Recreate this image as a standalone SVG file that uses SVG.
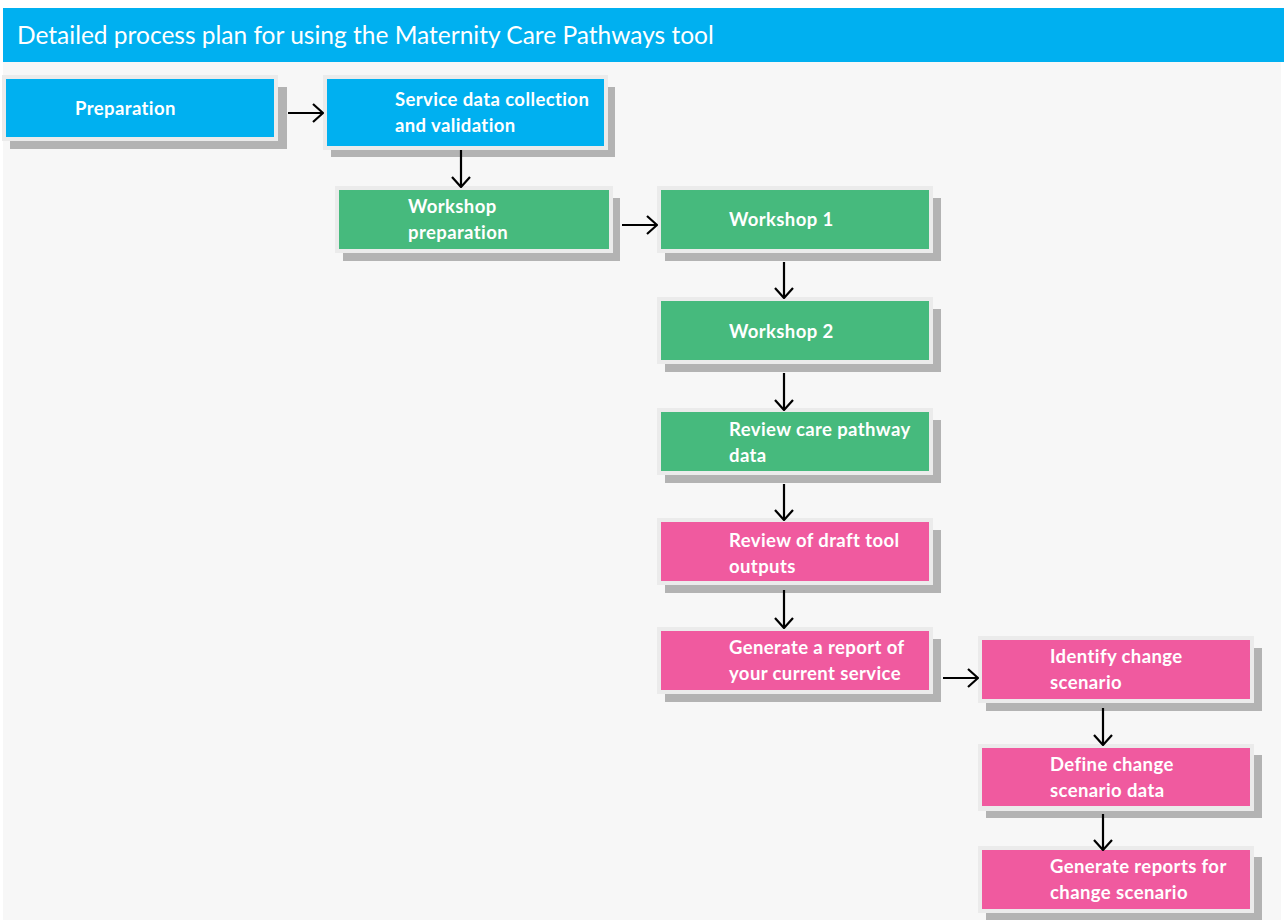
<svg xmlns="http://www.w3.org/2000/svg" width="1284" height="922" viewBox="0 0 1284 922">
<defs>
<style>
.bg{fill:#f7f7f7}
.sh{fill:#b3b3b3}
.bd{fill:#ebebeb}
.blue{fill:#00b0f0}
.green{fill:#46ba7d}
.pink{fill:#f05a9f}
.t{font-family:Lato,"Open Sans","Liberation Sans",sans-serif;font-weight:bold;font-size:18.5px;letter-spacing:0.4px;fill:#ffffff}
.title{font-family:Lato,"Open Sans","Liberation Sans",sans-serif;font-size:24.5px;fill:#ffffff}
.c{stroke:#000;stroke-width:2.2;fill:none}
</style>
<marker id="ah" markerUnits="userSpaceOnUse" viewBox="0 0 12 20" refX="11" refY="10" markerWidth="12" markerHeight="20" orient="auto">
<path d="M1,1 L11,10 L1,19" fill="none" stroke="#000" stroke-width="2.2"/>
</marker>
</defs>
<rect x="0" y="0" width="1284" height="922" fill="#ffffff"/>
<rect class="bg" x="3" y="62" width="1278" height="858"/>
<g id="title">
<rect x="3" y="8" width="1281" height="54" fill="#00b0f0"/>
<text class="title" x="17" y="44">Detailed process plan for using the Maternity Care Pathways tool</text>
</g>
<g id="n1">
<rect class="sh" x="10" y="87" width="277" height="62"/>
<rect class="bd" x="2" y="75" width="276" height="66"/>
<rect class="blue" x="6" y="79" width="268" height="58"/>
<text class="t" x="75" y="115">Preparation</text>
</g>
<g id="n2">
<rect class="sh" x="331" y="87" width="284" height="70"/>
<rect class="bd" x="323" y="75" width="285" height="75"/>
<rect class="blue" x="327" y="79" width="277" height="67"/>
<text class="t" x="395" y="106">Service data collection</text>
<text class="t" x="395" y="132">and validation</text>
</g>
<g id="n3">
<rect class="sh" x="343" y="198" width="277" height="63"/>
<rect class="bd" x="335" y="186" width="278" height="67"/>
<rect class="green" x="339" y="190" width="270" height="59"/>
<text class="t" x="408" y="213">Workshop</text>
<text class="t" x="408" y="239">preparation</text>
</g>
<g id="n4">
<rect class="sh" x="665" y="198" width="276" height="63"/>
<rect class="bd" x="657" y="186" width="276" height="67"/>
<rect class="green" x="661" y="190" width="268" height="59"/>
<text class="t" x="729" y="226">Workshop 1</text>
</g>
<g id="n5">
<rect class="sh" x="665" y="309" width="276" height="63"/>
<rect class="bd" x="657" y="297" width="276" height="67"/>
<rect class="green" x="661" y="301" width="268" height="59"/>
<text class="t" x="729" y="338">Workshop 2</text>
</g>
<g id="n6">
<rect class="sh" x="665" y="420" width="276" height="63"/>
<rect class="bd" x="657" y="408" width="276" height="67"/>
<rect class="green" x="661" y="412" width="268" height="59"/>
<text class="t" x="729" y="436">Review care pathway</text>
<text class="t" x="729" y="462">data</text>
</g>
<g id="n7">
<rect class="sh" x="665" y="530" width="276" height="63"/>
<rect class="bd" x="657" y="518" width="276" height="67"/>
<rect class="pink" x="661" y="522" width="268" height="59"/>
<text class="t" x="729" y="547">Review of draft tool</text>
<text class="t" x="729" y="573">outputs</text>
</g>
<g id="n8">
<rect class="sh" x="665" y="639" width="276" height="63"/>
<rect class="bd" x="657" y="627" width="276" height="67"/>
<rect class="pink" x="661" y="631" width="268" height="59"/>
<text class="t" x="729" y="654">Generate a report of</text>
<text class="t" x="729" y="680">your current service</text>
</g>
<g id="n9">
<rect class="sh" x="986" y="648" width="276" height="63"/>
<rect class="bd" x="978" y="636" width="276" height="67"/>
<rect class="pink" x="982" y="640" width="268" height="59"/>
<text class="t" x="1050" y="663">Identify change</text>
<text class="t" x="1050" y="689">scenario</text>
</g>
<g id="n10">
<rect class="sh" x="986" y="755" width="276" height="63"/>
<rect class="bd" x="978" y="744" width="276" height="67"/>
<rect class="pink" x="982" y="748" width="268" height="58"/>
<text class="t" x="1050" y="771">Define change</text>
<text class="t" x="1050" y="797">scenario data</text>
</g>
<g id="n11">
<rect class="sh" x="986" y="857" width="276" height="63"/>
<rect class="bd" x="978" y="846" width="276" height="67"/>
<rect class="pink" x="982" y="850" width="268" height="59"/>
<text class="t" x="1050" y="873">Generate reports for</text>
<text class="t" x="1050" y="899">change scenario</text>
</g>
<g id="connectors">
<line class="c" x1="288" y1="113" x2="323" y2="113" marker-end="url(#ah)"/>
<line class="c" x1="461" y1="150" x2="461" y2="187" marker-end="url(#ah)"/>
<line class="c" x1="622" y1="225" x2="657" y2="225" marker-end="url(#ah)"/>
<line class="c" x1="784" y1="262" x2="784" y2="298" marker-end="url(#ah)"/>
<line class="c" x1="784" y1="373" x2="784" y2="410" marker-end="url(#ah)"/>
<line class="c" x1="784" y1="484" x2="784" y2="520" marker-end="url(#ah)"/>
<line class="c" x1="784" y1="590" x2="784" y2="628" marker-end="url(#ah)"/>
<line class="c" x1="943" y1="678" x2="978" y2="678" marker-end="url(#ah)"/>
<line class="c" x1="1103" y1="708" x2="1103" y2="745" marker-end="url(#ah)"/>
<line class="c" x1="1103" y1="814" x2="1103" y2="850" marker-end="url(#ah)"/>
</g>
</svg>
